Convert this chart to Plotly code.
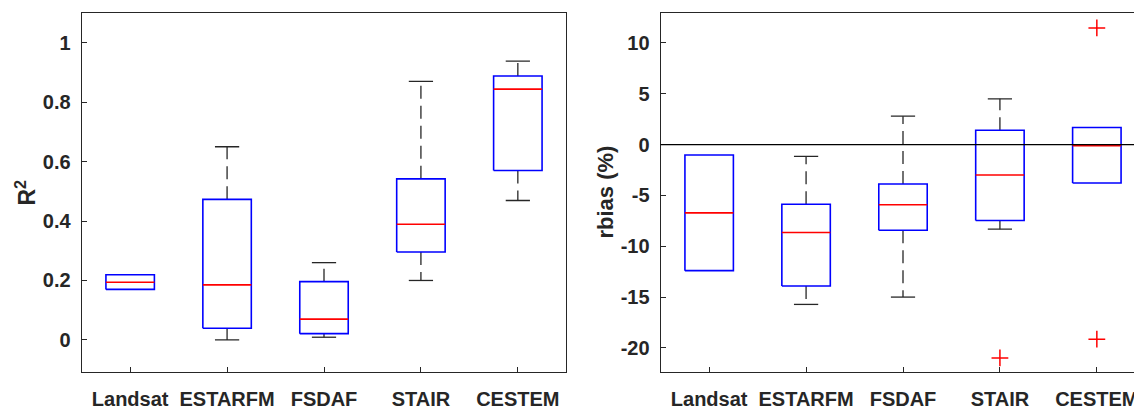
import plotly.graph_objects as go

# ---------------- data ----------------
categories = ["Landsat", "ESTARFM", "FSDAF", "STAIR", "CESTEM"]

r2_q1 = [0.170, 0.039, 0.021, 0.296, 0.570]
r2_med = [0.194, 0.185, 0.070, 0.389, 0.844]
r2_q3 = [0.219, 0.473, 0.196, 0.542, 0.888]
r2_lo = [0.170, 0.000, 0.009, 0.200, 0.469]
r2_hi = [0.219, 0.650, 0.260, 0.870, 0.938]
r2_out = [[], [], [], [], []]

rbias_q1 = [-12.40, -13.91, -8.42, -7.47, -3.78]
rbias_med = [-6.71, -8.65, -5.92, -2.99, -0.10]
rbias_q3 = [-1.02, -5.86, -3.88, 1.41, 1.68]
rbias_lo = [-12.40, -15.72, -15.00, -8.32, -3.78]
rbias_hi = [-1.02, -1.15, 2.80, 4.51, 1.68]
rbias_out = [[], [], [], [-20.99], [11.48, -19.14]]

r2_ticks = [0, 0.2, 0.4, 0.6, 0.8, 1]
r2_ticktext = ["0", "0.2", "0.4", "0.6", "0.8", "1"]
rbias_ticks = [-20, -15, -10, -5, 0, 5, 10]
rbias_ticktext = ["-20", "-15", "-10", "-5", "0", "5", "10"]

# ---------------- style ----------------
BOX_HALF = 0.25
CAP_HALF = 0.125
BLUE = "#0000ff"
RED = "#ff0000"
BLACK = "#262626"
FAMILY = "Liberation Sans, Arial, sans-serif"
FONT = dict(family=FAMILY, size=20, color=BLACK, weight="bold")

fig = go.Figure()


def add_boxes(q1, med, q3, lo, hi, out, xa, ya):
    wx, wy, cx, cy, bx, by, mx, my, ox, oy = [], [], [], [], [], [], [], [], [], []
    for i in range(len(categories)):
        p = i + 1
        if hi[i] > q3[i]:
            wx += [p, p, None]; wy += [q3[i], hi[i], None]
            cx += [p - CAP_HALF, p + CAP_HALF, None]; cy += [hi[i], hi[i], None]
        if lo[i] < q1[i]:
            wx += [p, p, None]; wy += [q1[i], lo[i], None]
            cx += [p - CAP_HALF, p + CAP_HALF, None]; cy += [lo[i], lo[i], None]
        bx += [p - BOX_HALF, p + BOX_HALF, p + BOX_HALF, p - BOX_HALF, p - BOX_HALF, None]
        by += [q1[i], q1[i], q3[i], q3[i], q1[i], None]
        mx += [p - BOX_HALF, p + BOX_HALF, None]; my += [med[i], med[i], None]
        for v in out[i]:
            ox.append(p); oy.append(v)
    common = dict(xaxis=xa, yaxis=ya, showlegend=False, hoverinfo="skip")
    fig.add_trace(go.Scatter(x=wx, y=wy, mode="lines",
                             line=dict(color=BLACK, width=1.3, dash="13px,7px"), **common))
    fig.add_trace(go.Scatter(x=cx, y=cy, mode="lines",
                             line=dict(color=BLACK, width=1.3), **common))
    fig.add_trace(go.Scatter(x=bx, y=by, mode="lines",
                             line=dict(color=BLUE, width=1.6), **common))
    fig.add_trace(go.Scatter(x=mx, y=my, mode="lines",
                             line=dict(color=RED, width=1.6), **common))
    if ox:
        fig.add_trace(go.Scatter(x=ox, y=oy, mode="markers",
                                 marker=dict(symbol="cross-thin", size=12,
                                             line=dict(color=RED, width=1.5)),
                                 **common))


add_boxes(r2_q1, r2_med, r2_q3, r2_lo, r2_hi, r2_out, "x", "y")
add_boxes(rbias_q1, rbias_med, rbias_q3, rbias_lo, rbias_hi, rbias_out, "x2", "y2")

# page body adds an 8 px offset; size figure to fill the rest of the window
OFF = 8
W, H = 1142 - OFF, 410 - OFF
left_dom = [(81.7 - OFF) / W, (566.3 - OFF) / W]
right_dom = [(660.7 - OFF) / W, 1.0]
cat_px = (566.3 - 81.7) / 5.0
right_max = 0.5 + (W - (660.7 - OFF)) / cat_px

axis_common = dict(showgrid=False, zeroline=False, showline=True, linecolor=BLACK,
                   linewidth=1.2, mirror=True, ticks="inside", ticklen=5,
                   tickcolor=BLACK, tickwidth=1, tickfont=FONT)

fig.update_layout(
    width=W, height=H,
    margin=dict(l=0, r=0, t=round(12.7 - OFF, 1), b=38),
    plot_bgcolor="white", paper_bgcolor="white",
    font=FONT,
    xaxis=dict(domain=left_dom, range=[0.5, 5.5], tickvals=list(range(1, 6)),
               ticktext=categories, anchor="y", ticklabelstandoff=9, **axis_common),
    yaxis=dict(domain=[0, 1], range=[-0.108, 1.1], tickvals=r2_ticks,
               ticktext=r2_ticktext, anchor="x", ticklabelstandoff=6, **axis_common),
    xaxis2=dict(domain=right_dom, range=[0.5, right_max], tickvals=list(range(1, 6)),
                ticktext=categories, anchor="y2", ticklabelstandoff=9, **axis_common),
    yaxis2=dict(domain=[0, 1], range=[-22.37, 12.95], tickvals=rbias_ticks,
                ticktext=rbias_ticktext, anchor="x2", ticklabelstandoff=6, **axis_common),
    shapes=[dict(type="line", xref="x2 domain", x0=0, x1=1, yref="y2", y0=0, y1=0,
                 line=dict(color="black", width=1.3), layer="above")],
    annotations=[
        dict(text="R<sup>2</sup>", xref="paper", yref="paper", x=(25 - OFF) / W, y=0.5,
             xanchor="center", yanchor="middle", textangle=-90, showarrow=False,
             font=dict(family=FAMILY, size=23, color=BLACK, weight="bold")),
        dict(text="rbias (%)", xref="paper", yref="paper", x=(605 - OFF) / W, y=0.5,
             xanchor="center", yanchor="middle", textangle=-90, showarrow=False,
             font=dict(family=FAMILY, size=22, color=BLACK, weight="bold")),
    ],
)

fig.write_html("out.html")
